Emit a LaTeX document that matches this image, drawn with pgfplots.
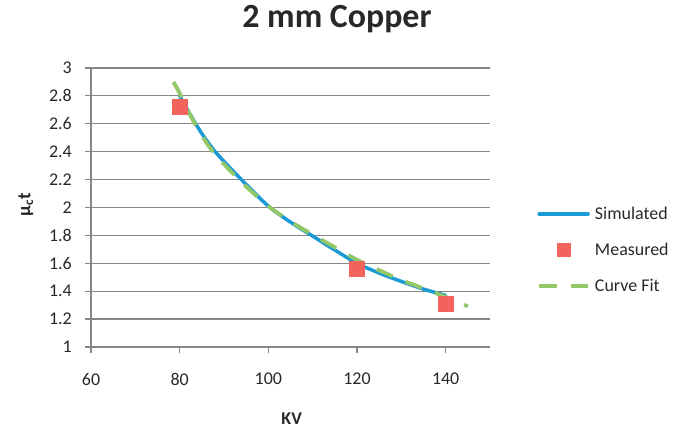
\documentclass[border=0pt]{standalone}
\usepackage{pgfplots}
\pgfplotsset{compat=1.18}
\usepackage{fontspec}
\setmainfont{Carlito}
\definecolor{simblue}{RGB}{27,154,214}
\definecolor{measred}{RGB}{242,99,91}
\definecolor{fitgreen}{RGB}{146,200,103}
\definecolor{gridgray}{RGB}{134,134,134}
\definecolor{txt}{RGB}{40,40,40}

\pgfplotstableread{
x y
80 2.80
82.5 2.66
85 2.53
87.5 2.42
90 2.33
95 2.165
100 2.01
105 1.895
110 1.795
115 1.695
120 1.60
125 1.53
130 1.47
135 1.415
140 1.37
}\simulated

\pgfplotstableread{
x y
80 2.72
120 1.56
140 1.31
}\measured

\pgfplotstableread{
x y
78.6 2.90
80 2.82
82.5 2.655
85 2.515
87.5 2.40
90 2.31
95 2.15
100 2.01
105 1.90
110 1.805
115 1.715
120 1.625
125 1.55
130 1.48
135 1.42
140 1.358
145 1.292
}\curvefit

\begin{document}
\begin{tikzpicture}
\path[use as bounding box] (-91bp,-86bp) rectangle (604bp,347bp);
\begin{axis}[
  at={(0,0)}, anchor=south west,
  scale only axis, width=399bp, height=279bp,
  xmin=60, xmax=150, ymin=1, ymax=3,
  xtick={60,80,100,120,140},
  ytick={1,1.2,1.4,1.6,1.8,2,2.2,2.4,2.6,2.8,3},
  yticklabels={1,1.2,1.4,1.6,1.8,2,2.2,2.4,2.6,2.8,3},
  axis x line*=bottom, axis y line*=left,
  axis line style={draw=gridgray, line width=1.2bp},
  ymajorgrids, grid style={draw=gridgray, line width=1.2bp},
  tick align=outside, major tick length=6bp,
  tick style={draw=gridgray, line width=1.2bp},
  /pgf/number format/assume math mode=true,
  ticklabel style={font=\fontsize{18}{21}\selectfont, text=txt},
  xticklabel style={anchor=north, inner sep=0pt, yshift=-20bp},
  yticklabel style={anchor=east, inner sep=0pt, xshift=-13bp},
  title={2 mm Copper},
  title style={at={(axis description cs:0.6165,1.1254)}, anchor=base, inner sep=0pt,
    font=\bfseries\fontsize{34}{40}\selectfont, text=txt},
  xlabel={KV},
  xlabel style={at={(axis description cs:0.503,-0.277)}, anchor=base, inner sep=0pt,
    font=\bfseries\fontsize{18}{21}\selectfont, text=txt},
  ylabel={µ\textsubscript{c}t},
  ylabel style={at={(axis description cs:-0.163,0.509)}, anchor=center, inner sep=0pt,
    font=\bfseries\fontsize{19}{22}\selectfont, text=txt},
  legend style={at={(axis description cs:1.1103,0.3477)}, anchor=west, draw=none, fill=none,
    font=\fontsize{18}{21}\selectfont, text=txt, row sep=18bp,
    /tikz/every odd column/.append style={column sep=3bp}},
  legend cell align=left,
  legend image code/.code={\draw[mark repeat=2,mark phase=2,#1] plot coordinates {(0bp,0bp) (24.5bp,0bp) (49bp,0bp)};},
]
\addplot[simblue, line width=3.5bp, line cap=round, smooth, tension=0.5] table[x=x,y=y] {\simulated};
\addlegendentry{Simulated}
\addlegendimage{only marks, mark=square*, mark size=6.5bp, mark options={draw=measred, fill=measred}}
\addlegendentry{Measured}
\addplot[fitgreen, line width=3.8bp, dash pattern=on 17.5bp off 14bp, smooth, tension=0.5] table[x=x,y=y] {\curvefit};
\addlegendentry{Curve Fit}
\addplot[only marks, mark=square*, mark size=7.5bp, mark options={draw=measred, fill=measred}, forget plot] table[x=x,y=y] {\measured};
\end{axis}
\end{tikzpicture}
\end{document}
